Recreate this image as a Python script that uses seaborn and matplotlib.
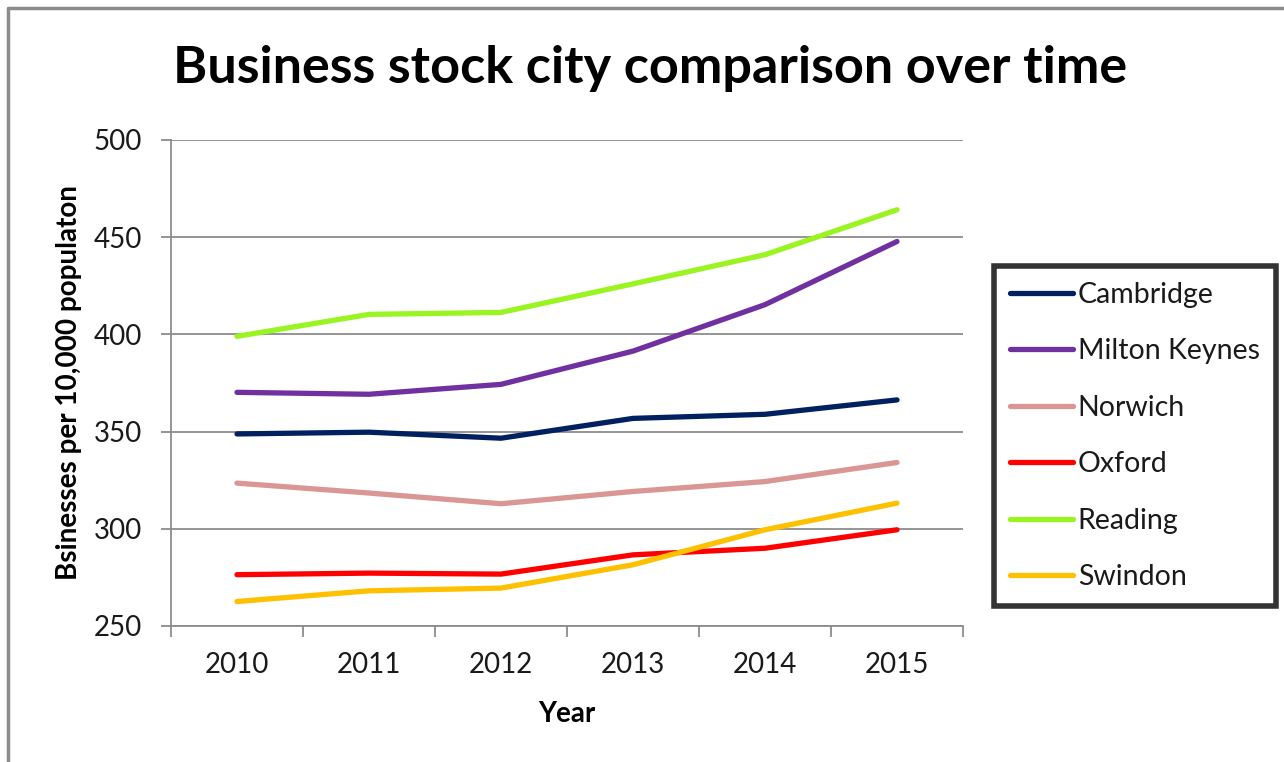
import matplotlib
matplotlib.use("Agg")
import matplotlib.pyplot as plt
from matplotlib.lines import Line2D
from matplotlib.ticker import FixedLocator, NullFormatter
import seaborn as sns
import pandas as pd

# Businesses per 10,000 population, by city and year
years = [2010, 2011, 2012, 2013, 2014, 2015]
cambridge = [348.8, 349.7, 346.6, 356.8, 358.9, 366.3]
milton_keynes = [370.2, 369.2, 374.3, 391.4, 415.3, 447.8]
norwich = [323.5, 318.4, 312.9, 319.2, 324.3, 334.1]
oxford = [276.4, 277.2, 276.7, 286.6, 290.0, 299.5]
reading = [399.0, 410.3, 411.3, 426.0, 441.0, 464.1]
swindon = [262.6, 268.1, 269.5, 281.5, 299.5, 313.2]

cities = ["Cambridge", "Milton Keynes", "Norwich", "Oxford", "Reading", "Swindon"]
series = [cambridge, milton_keynes, norwich, oxford, reading, swindon]
colors = ["#002060", "#7030A0", "#D99694", "#FF0000", "#99F422", "#FFC000"]
y_ticks = [250, 300, 350, 400, 450, 500]

rows = []
for city, vals in zip(cities, series):
    for i, (yr, v) in enumerate(zip(years, vals)):
        rows.append({"pos": i, "Year": yr, "City": city, "Value": v})
df = pd.DataFrame(rows)

sns.set_theme(style="white")
plt.rcParams["font.family"] = ["Lato", "DejaVu Sans"]

fig = plt.figure(figsize=(12.84, 7.62), dpi=100)
ax = fig.add_axes([171 / 1284, 1 - 626 / 762, (963 - 171) / 1284, (626 - 140) / 762])

palette = dict(zip(cities, colors))
sns.lineplot(data=df, x="pos", y="Value", hue="City", hue_order=cities,
             palette=palette, linewidth=3.8, ax=ax, legend=False,
             solid_capstyle="round")

grid_c = "#8c8c8c"
text_c = "#1a1a1a"
ax.set_xlim(-0.5, 5.5)
ax.set_ylim(250, 500)
ax.set_yticks(y_ticks)
ax.set_yticklabels([str(t) for t in y_ticks])
ax.yaxis.grid(True, color=grid_c, linewidth=1.3)
ax.set_axisbelow(True)

ax.set_xticks(range(len(years)))
ax.set_xticklabels([str(y) for y in years])
ax.xaxis.set_minor_locator(FixedLocator([i - 0.5 for i in range(len(years) + 1)]))
ax.xaxis.set_minor_formatter(NullFormatter())
ax.tick_params(axis="x", which="major", length=0, pad=19, labelsize=20, labelcolor=text_c)
ax.tick_params(axis="x", which="minor", length=8, width=1.3, color=grid_c, direction="out", bottom=True)
ax.tick_params(axis="y", which="major", length=7, width=1.3, color=grid_c, direction="out",
               left=True, pad=14, labelsize=20, labelcolor=text_c)

for side in ["top", "right"]:
    ax.spines[side].set_visible(False)
for side in ["left", "bottom"]:
    ax.spines[side].set_color(grid_c)
    ax.spines[side].set_linewidth(1.3)

ax.set_xlabel("Year", fontsize=20, fontweight="bold", labelpad=16, color="black")
ax.set_ylabel("Bsinesses per 10,000 populaton", fontsize=20, fontweight="bold", labelpad=8,
              color="black")

fig.text(650 / 1284, 1 - 68 / 762, "Business stock city comparison over time",
         ha="center", va="center", fontsize=37.5, fontweight="bold", color="black")

handles = [Line2D([0], [0], color=c, linewidth=3.8, solid_capstyle="round") for c in colors]
leg = fig.legend(handles, cities, loc="upper left",
                 bbox_to_anchor=(994 / 1284, 1 - 266 / 762),
                 fontsize=20.5, frameon=True, fancybox=False, shadow=False,
                 handlelength=2.2, handletextpad=0.18, labelspacing=1.07,
                 borderpad=0.56, borderaxespad=0)
leg.get_frame().set_edgecolor("black")
leg.get_frame().set_linewidth(4)
for t in leg.get_texts():
    t.set_color(text_c)

# outer chart frame (left and top edges)
fig.add_artist(Line2D([8 / 1284, 8 / 1284], [0, 1 - 8 / 762], color=grid_c, linewidth=2.5,
                      transform=fig.transFigure))
fig.add_artist(Line2D([8 / 1284, 1], [1 - 8 / 762, 1 - 8 / 762], color=grid_c, linewidth=2.5,
                      transform=fig.transFigure))

fig.savefig("out.png", dpi=100)
